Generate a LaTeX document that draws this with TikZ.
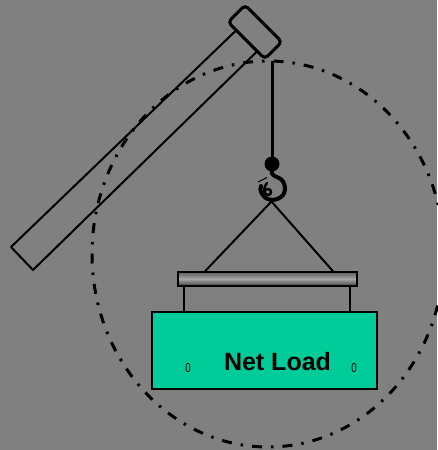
\documentclass[tikz,border=0pt]{standalone}
\usepackage{fontspec}
\setmainfont{Liberation Sans}
\begin{document}
\begin{tikzpicture}[x=1pt,y=-1pt,
  bg/.style={fill=canvas},
  boomedge/.style={draw=black,line width=2pt,line join=round},
  headblock/.style={draw=black,line width=3pt,fill=canvas,rotate=-45,
    minimum width=52pt,minimum height=24pt,rounded corners=4pt,inner sep=0pt},
  orbit/.style={draw=black,line width=3pt,
    dash pattern=on 10pt off 9pt on 2.5pt off 9pt},
  rope/.style={draw=black,line width=3pt},
  hookline/.style={draw=black,line width=4pt,line cap=round},
  sling/.style={draw=black,line width=2pt},
  spreader/.style={draw=black,line width=1.5pt,
    top color=bargrey,bottom color=bargrey!70!black,middle color=barlight,inner sep=0pt},
  hanger/.style={draw=black,line width=1.5pt},
  loadbox/.style={draw=black,line width=1.5pt,fill=loadgreen,inner sep=0pt},
  smallmark/.style={font=\fontsize{13}{15}\selectfont,inner sep=0pt,xscale=0.75},
]
\definecolor{canvas}{HTML}{808080}
\definecolor{loadgreen}{HTML}{00CC99}
\definecolor{bargrey}{HTML}{5E5E5E}
\definecolor{barlight}{HTML}{A6A6A6}

% background and page size
\fill[bg] (0,0) rectangle (437,450);
\useasboundingbox (0,0) rectangle (437,450);

% swing envelope of the load
\draw[orbit] (268,254) ellipse [x radius=176pt, y radius=193pt];

% crane boom
\coordinate (b1) at (11,247);
\coordinate (b2) at (236,30.5);
\coordinate (b3) at (257,51.5);
\coordinate (b4) at (33,270);
\draw[boomedge] (b1) -- (b2) -- (b3) -- (b4) -- cycle;

% boom head
\node[headblock] (head) at (255,32) {};

% hoist rope, ball and hook
\coordinate (ropetop) at (272,61);
\node[circle,fill=black,minimum size=15pt,inner sep=0pt] (ball) at (272,164) {};
\draw[rope] (ropetop) -- (ball.center);
\draw[hookline] (ball.south) .. controls (271,174) and (274,176) .. (279,178)
  .. controls (286,181) and (287,193) .. (281,197)
  .. controls (274,202) and (265,200) .. (262,194)
  .. controls (260,190) and (260,188) .. (261,186);
\draw[black,line width=2.4pt,line cap=round] (267,183)
  .. controls (263,187) and (263,195) .. (268,195)
  .. controls (272,195) and (272,189) .. (268,189)
  .. controls (265,189) and (264.5,191) .. (264.5,192);
\draw[black,line width=1pt] (258,182) -- (267,177.5);
\coordinate (apex) at (271.5,201.5);

% spreader bar
\node[spreader,minimum width=179pt,minimum height=14pt] (bar) at (267.5,279) {};
\draw[sling] (apex) -- (bar.north west -| 205,0);
\draw[sling] (apex) -- (bar.north west -| 333,0);

% load
\node[loadbox,minimum width=225pt,minimum height=77pt] (load) at (264.5,350.5) {};
\draw[hanger] (bar.south west -| 184,0) -- (load.north west -| 184,0);
\draw[hanger] (bar.south west -| 350,0) -- (load.north west -| 350,0);
\node[font=\bfseries\fontsize{25}{30}\selectfont,inner sep=0pt] (label) at (277.5,362) {Net Load};
\node[smallmark] (lmark) at (188,368) {0};
\node[smallmark] (rmark) at (354,368) {0};
\end{tikzpicture}
\end{document}
